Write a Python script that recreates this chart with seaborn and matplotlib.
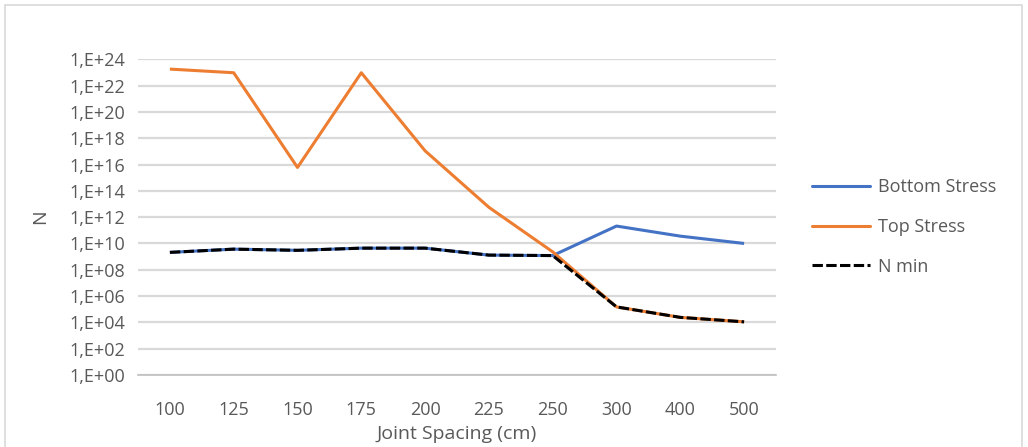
import numpy as np
import pandas as pd
import matplotlib
matplotlib.use("Agg")
import matplotlib.pyplot as plt
from matplotlib.ticker import FixedLocator, FuncFormatter, NullFormatter
from matplotlib.patches import Rectangle
import seaborn as sns

# Joint spacing categories (cm)
spacing = ["100", "125", "150", "175", "200", "225", "250", "300", "400", "500"]

# Allowable load repetitions
bottom_stress = [2.1e9, 3.7e9, 3.0e9, 4.4e9, 4.4e9, 1.3e9, 1.2e9, 2.1e11, 3.6e10, 1.0e10]
top_stress = [1.8e23, 9.5e22, 6.0e15, 9.5e22, 1.1e17, 5.6e12, 2.3e9, 1.5e5, 2.4e4, 1.1e4]
n_min = [2.1e9, 3.7e9, 3.0e9, 4.4e9, 4.4e9, 1.3e9, 1.2e9, 1.5e5, 2.4e4, 1.1e4]

series_names = ["Bottom Stress", "Top Stress", "N min"]
palette = {"Bottom Stress": "#4472C4", "Top Stress": "#ED7D31", "N min": "#000000"}

df = pd.concat([
    pd.DataFrame({"Joint Spacing (cm)": spacing, "N": vals, "series": name})
    for name, vals in zip(series_names, [bottom_stress, top_stress, n_min])
], ignore_index=True)

sns.set_theme(style="white")
plt.rcParams["font.family"] = ["Open Sans", "DejaVu Sans"]

W, H = 1028, 447
fig = plt.figure(figsize=(W / 100, H / 100), dpi=100)
ax = fig.add_axes([138 / W, 1 - 375 / H, (776 - 138) / W, (375 - 59.3) / H])

text_color = "#595959"
grid_color = "#D9D9D9"

sns.lineplot(data=df, x="Joint Spacing (cm)", y="N", hue="series",
             hue_order=series_names, palette=palette, ax=ax,
             linewidth=2.2, sort=False, legend=False)

# dashed style for the minimum line
lines = ax.get_lines()
for ln in lines:
    ln.set_solid_capstyle("butt")
    ln.set_solid_joinstyle("round")
lines[2].set_linestyle((0, (3.4, 1.1)))
lines[2].set_dash_capstyle("butt")
lines[2].set_zorder(5)

ax.set_yscale("log")
ax.set_ylim(1, 1e24)
ax.set_xlim(-0.5, len(spacing) - 0.5)

ax.yaxis.set_major_locator(FixedLocator([10.0 ** e for e in range(0, 25, 2)]))
ax.yaxis.set_minor_locator(FixedLocator([]))
ax.yaxis.set_major_formatter(FuncFormatter(lambda v, p: f"1,E+{int(round(np.log10(v))):02d}"))

ax.set_xticks(range(len(spacing)))
ax.set_xticklabels(spacing)
ax.xaxis.set_minor_locator(FixedLocator(np.arange(-0.5, len(spacing), 1.0)))
ax.xaxis.set_minor_formatter(NullFormatter())

ax.grid(axis="y", color=grid_color, linewidth=1.6)
ax.set_axisbelow(True)

for s in ["top", "right", "left"]:
    ax.spines[s].set_visible(False)
ax.spines["bottom"].set_color("#BFBFBF")
ax.spines["bottom"].set_linewidth(1.2)

ax.tick_params(axis="x", which="major", length=0, pad=19, labelsize=13, labelcolor=text_color)
ax.tick_params(axis="x", which="minor", length=6, width=1.2, color="#BFBFBF", direction="out")
ax.tick_params(axis="y", which="major", length=0, pad=9, labelsize=13, labelcolor=text_color)

ax.set_xlabel("Joint Spacing (cm)", fontsize=14, color=text_color, labelpad=4)
ax.set_ylabel("N", fontsize=14, color=text_color, labelpad=15)

handles = [plt.Line2D([], [], color=palette["Bottom Stress"], lw=2.2),
           plt.Line2D([], [], color=palette["Top Stress"], lw=2.2),
           plt.Line2D([], [], color="black", lw=2.2, linestyle=(0, (3.4, 1.1)))]
leg = fig.legend(handles, series_names, loc="center left",
                 bbox_to_anchor=(812 / W, 1 - 227 / H), frameon=False,
                 fontsize=13, handlelength=3.2, handletextpad=0.45,
                 labelspacing=1.2, borderpad=0, borderaxespad=0)
for t in leg.get_texts():
    t.set_color(text_color)

# chart area border
fig.patches.append(Rectangle((5 / W, -0.01), (1022 - 5) / W, 1 - 5 / H + 0.01,
                             transform=fig.transFigure, fill=False,
                             edgecolor=grid_color, linewidth=1.2))

fig.savefig("out.png", dpi=100, facecolor="white")
